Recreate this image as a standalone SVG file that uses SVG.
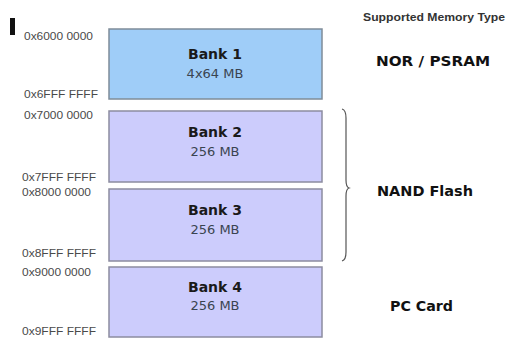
<svg xmlns="http://www.w3.org/2000/svg" width="506" height="338" viewBox="0 0 506 338">
<style>
.addr{font-family:"Liberation Sans",Arial,sans-serif;font-size:11.5px;fill:#4a4a4a}
.bt{font-family:"DejaVu Sans",Verdana,sans-serif;font-size:14px;font-weight:bold;fill:#1a1a1a;text-anchor:middle}
.bs{font-family:"DejaVu Sans",Verdana,sans-serif;font-size:13px;fill:#3a4450;text-anchor:middle}
.ty{font-family:"DejaVu Sans",Verdana,sans-serif;font-size:13.5px;font-weight:bold;fill:#111}
.b1{fill:#9fcdf8;stroke:#7f8c99;stroke-width:1.5}
.bx{fill:#ccccfc;stroke:#8c8ca0;stroke-width:1.5}
</style>
<rect width="506" height="338" fill="#fff"/>
<rect x="10" y="18" width="5" height="17" fill="#111"/>
<text x="363" y="21" font-family="'Liberation Sans',Arial,sans-serif" font-size="11" font-weight="bold" fill="#333" textLength="142" lengthAdjust="spacingAndGlyphs">Supported Memory Type</text>
<g id="bank1">
<rect class="b1" x="109" y="29" width="213" height="70"/>
<text class="bt" x="215" y="59">Bank 1</text>
<text class="bs" x="215" y="78">4x64 MB</text>
</g>
<g id="bank2">
<rect class="bx" x="109" y="111" width="213" height="71"/>
<text class="bt" x="215" y="137">Bank 2</text>
<text class="bs" x="215" y="156">256 MB</text>
</g>
<g id="bank3">
<rect class="bx" x="109" y="189" width="213" height="72"/>
<text class="bt" x="215" y="215">Bank 3</text>
<text class="bs" x="215" y="234">256 MB</text>
</g>
<g id="bank4">
<rect class="bx" x="109" y="267" width="213" height="70"/>
<text class="bt" x="215" y="292">Bank 4</text>
<text class="bs" x="215" y="310">256 MB</text>
</g>
<g id="addresses">
<text class="addr" x="24" y="40" textLength="69" lengthAdjust="spacingAndGlyphs">0x6000 0000</text>
<text class="addr" x="24" y="98" textLength="74" lengthAdjust="spacingAndGlyphs">0x6FFF FFFF</text>
<text class="addr" x="24" y="119" textLength="69" lengthAdjust="spacingAndGlyphs">0x7000 0000</text>
<text class="addr" x="22" y="181" textLength="74" lengthAdjust="spacingAndGlyphs">0x7FFF FFFF</text>
<text class="addr" x="22" y="196" textLength="69" lengthAdjust="spacingAndGlyphs">0x8000 0000</text>
<text class="addr" x="22" y="257" textLength="74" lengthAdjust="spacingAndGlyphs">0x8FFF FFFF</text>
<text class="addr" x="22" y="276" textLength="69" lengthAdjust="spacingAndGlyphs">0x9000 0000</text>
<text class="addr" x="22" y="335" textLength="74" lengthAdjust="spacingAndGlyphs">0x9FFF FFFF</text>
</g>
<g id="connectors">
<path d="M342 109 Q346 110 346 118 L346 180 Q346 187 349 188 Q346 189 346 196 L346 252 Q346 260 342 261" fill="none" stroke="#555" stroke-width="1.2"/>
</g>
<g id="types">
<text class="ty" x="376" y="66" textLength="114" lengthAdjust="spacingAndGlyphs">NOR / PSRAM</text>
<text class="ty" x="377" y="196" textLength="96" lengthAdjust="spacingAndGlyphs">NAND Flash</text>
<text class="ty" x="390" y="311" textLength="63" lengthAdjust="spacingAndGlyphs">PC Card</text>
</g>
</svg>
